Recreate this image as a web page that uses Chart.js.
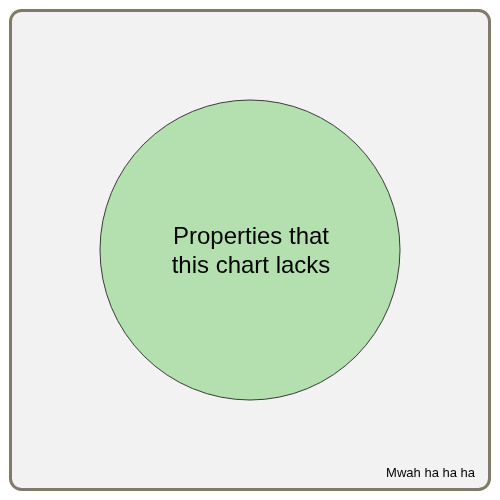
<!DOCTYPE html>
<html lang="en">
<head>
<meta charset="utf-8">
<script src="https://cdn.jsdelivr.net/npm/chart.js@4/dist/chart.umd.min.js"></script>
<style>
  html, body { margin: 0; padding: 0; background: #ffffff; }
  #wrap { width: 500px; height: 500px; }
</style>
</head>
<body>
<div id="wrap"><canvas id="canvas" width="500" height="500"></canvas></div>
<script>
// one set, one circle
var setLabels = ["Properties that", "this chart lacks"];
var setSizes = [150];
var footnote = "Mwah ha ha ha";

// frame + labels drawn around the bubble
var framePlugin = {
  id: "frame",
  beforeDraw: function(chart) {
    var ctx = chart.ctx;
    ctx.save();
    ctx.fillStyle = "#f2f2f2";
    ctx.strokeStyle = "#7f7a69";
    ctx.lineWidth = 3;
    ctx.beginPath();
    ctx.roundRect(10.5, 10.5, 479, 479, 11);
    ctx.fill();
    ctx.stroke();
    ctx.restore();
  },
  afterDatasetsDraw: function(chart) {
    var ctx = chart.ctx;
    var pt = chart.getDatasetMeta(0).data[0];
    ctx.save();
    ctx.fillStyle = "#000";
    ctx.textAlign = "center";
    ctx.textBaseline = "alphabetic";
    ctx.font = "24px 'Liberation Sans', Arial, sans-serif";
    ctx.fillText(setLabels[0], pt.x + 1, pt.y - 6);
    ctx.fillText(setLabels[1], pt.x + 1, pt.y + 23);
    ctx.font = "13px 'Liberation Sans', Arial, sans-serif";
    ctx.textAlign = "right";
    ctx.fillText(footnote, 475, 477);
    ctx.restore();
  }
};

var ctx = document.getElementById("canvas").getContext("2d");
new Chart(ctx, {
  type: "bubble",
  data: {
    datasets: [{
      label: setLabels.join(" "),
      data: setSizes.map(function(r) { return { x: 0, y: 0, r: r }; }),
      backgroundColor: "#b3e0ae",
      borderColor: "#3a3a3a",
      borderWidth: 1,
      hoverRadius: 0,
      clip: false
    }]
  },
  options: {
    responsive: false,
    animation: false,
    layout: { padding: 0 },
    plugins: { legend: { display: false }, tooltip: { enabled: false } },
    scales: {
      x: { display: false, min: -1, max: 1 },
      y: { display: false, min: -1, max: 1 }
    }
  },
  plugins: [framePlugin]
});
</script>
</body>
</html>
